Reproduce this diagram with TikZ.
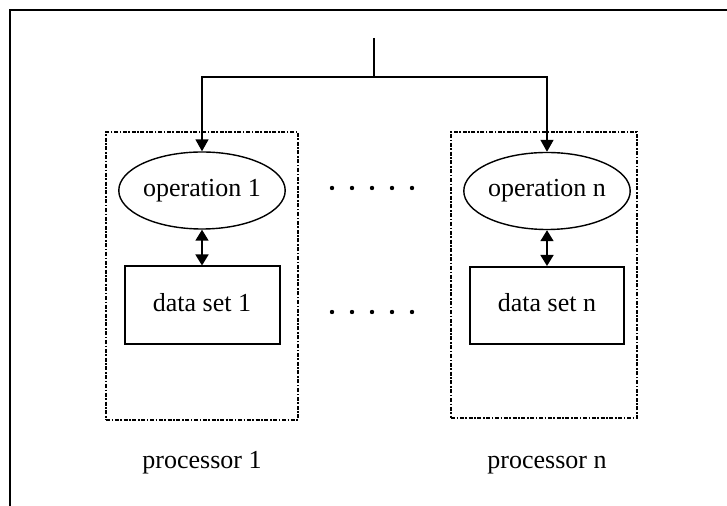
\documentclass[tikz,border=0pt]{standalone}
\usepackage{fontspec}
\setmainfont{Liberation Serif}
\usetikzlibrary{arrows.meta}
\usetikzlibrary{shapes.geometric}

\begin{document}
\begin{tikzpicture}[x=0.5pt,y=-0.5pt,
        operation/.style={ellipse,draw=black,line width=0.7pt,minimum width=77.5pt,minimum height=38.5pt,inner sep=0pt,text height=9pt,text depth=3pt},
        dataset/.style={rectangle,draw=black,line width=1pt,minimum width=77.5pt,minimum height=39pt,text height=9pt,text depth=3pt},
        processor/.style={rectangle,draw=black,line width=0.9pt,dash pattern=on 2pt off 0.8pt on 0.8pt off 0.8pt},
        caption/.style={text height=9pt,text depth=3pt},
        arr/.style={line width=0.8pt,-{Triangle[length=6pt,width=6.5pt]}},
        darr/.style={line width=0.8pt,{Triangle[length=5.5pt,width=6.5pt]}-{Triangle[length=5.5pt,width=6.5pt]}}
        ]
        \fontsize{13}{15}\selectfont
        \useasboundingbox (0,0) rectangle (727,506);
        % frame
        \draw[line width=1pt] (9.5,506) -- (9.5,10) -- (727,10);
        % processors
        \node (p1) [processor,minimum width=96pt,minimum height=144pt] at (202,276) {};
        \node (pn) [processor,minimum width=93pt,minimum height=143pt] at (544,275) {};
        \node (op1) [operation] at (202,190.5) {operation 1};
        \node (opn) [operation] at (547,191) {operation n};
        \node (ds1) [dataset] at (202,305.5) {data set 1};
        \node (dsn) [dataset,minimum width=77pt,minimum height=38.5pt] at (547,305.5) {data set n};
        \node (l1) [caption] at (202,463) {processor 1};
        \node (ln) [caption] at (547,463) {processor n};
        % dots
        \foreach \x in {332,352,...,412} {
            \fill (\x,188) circle (1.1pt);
            \fill (\x,312) circle (1.1pt);
        }
        % links
        \coordinate (in) at (374,38);
        \coordinate (split) at (374,77);
        \draw[line width=0.8pt] (in) -- (split);
        \draw[arr] (split) -| (op1);
        \draw[arr] (split) -| (opn);
        \draw[darr] (op1) -- (ds1);
        \draw[darr] (opn) -- (dsn);
    \end{tikzpicture}
\end{document}
